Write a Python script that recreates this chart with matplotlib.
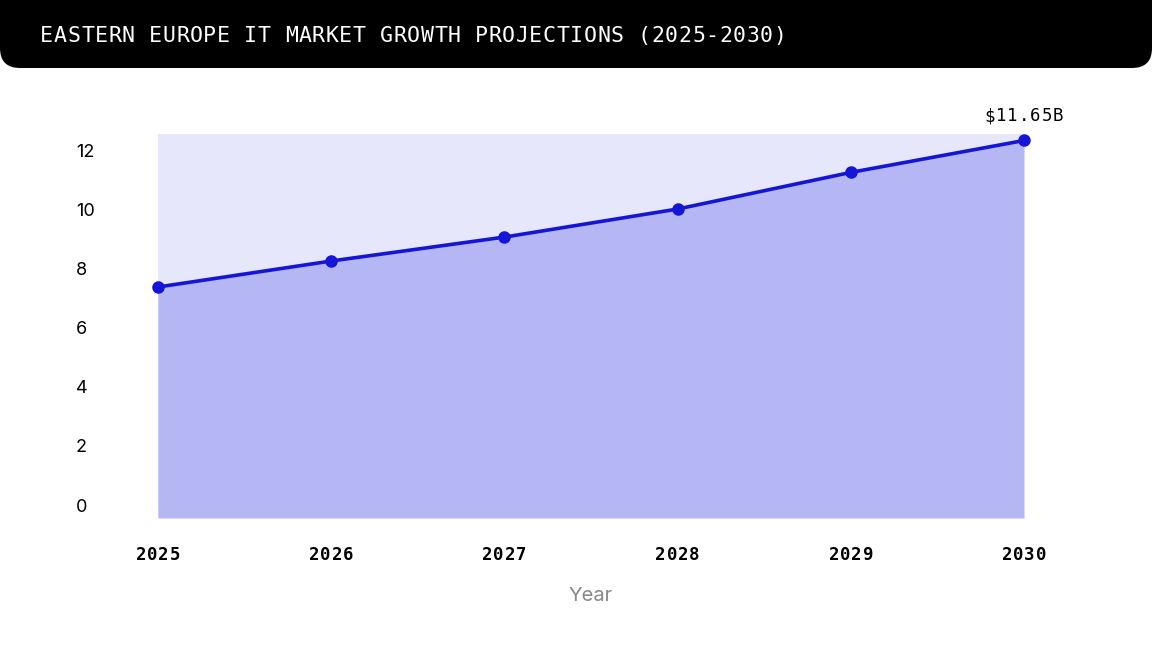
import matplotlib
matplotlib.use("Agg")
import matplotlib.pyplot as plt
import matplotlib.transforms as mtransforms
from matplotlib.patches import FancyBboxPatch

# data
years = [2025, 2026, 2027, 2028, 2029, 2030]
market_size = [7.82, 8.70, 9.51, 10.46, 11.70, 12.78]
y_ticks = [0, 2, 4, 6, 8, 10, 12]
callout_text = "$11.65B"
title = "EASTERN EUROPE IT MARKET GROWTH PROJECTIONS (2025-2030)"

line_color = '#1515d8'
fill_color = '#b5b7f5'
bg_color = '#e6e7fa'

W, H, DPI = 1152, 650, 100
fig = plt.figure(figsize=(W / DPI, H / DPI), dpi=DPI)
fig.patch.set_facecolor('white')


def spaced_text(ax_or_fig, x, y, s, char_w, transform, **kw):
    # monospace text with extra letter spacing, centred on x (offset in pixels)
    total = char_w * len(s)
    for i, ch in enumerate(s):
        dx = -total / 2 + (i + 0.5) * char_w
        tr = mtransforms.offset_copy(transform, fig=fig, x=dx, y=0, units='dots')
        ax_or_fig.text(x, y, ch, transform=tr, ha='center', va='center', **kw)


# title bar
bar = FancyBboxPatch((0, H - 68), W, 120, boxstyle="round,pad=0,rounding_size=20",
                     transform=None, facecolor='black', edgecolor='none')
fig.patches.append(bar)
char_w = 13.58
spaced_text(fig, (40 + char_w * len(title) / 2) / W, (H - 36) / H, title, char_w,
            fig.transFigure, color='white', family='DejaVu Sans Mono', fontsize=15.5)

ax = fig.add_axes([158 / W, (H - 518) / H, (1024 - 158) / W, (518 - 134) / H])
ax.set_facecolor(bg_color)
ax.fill_between(years, market_size, 0, color=fill_color, linewidth=0)
ax.plot(years, market_size, color=line_color, linewidth=2.6, marker='o',
        markersize=8, clip_on=False, zorder=3)
ax.set_xlim(years[0], years[-1])
ax.set_ylim(0, 13)
for s in ax.spines.values():
    s.set_visible(False)
ax.set_xticks([])
ax.set_yticks([])

# x labels, letter-spaced monospace
xtrans = mtransforms.offset_copy(ax.get_xaxis_transform(), fig=fig, x=0, y=-37, units='dots')
for yr in years:
    spaced_text(ax, yr, 0, str(yr), 11.3, xtrans, family='DejaVu Sans Mono',
                fontsize=12.5, fontweight='bold', color='black', clip_on=False)

# y labels sit a little above their value, left-aligned
ytrans = mtransforms.offset_copy(ax.get_yaxis_transform(), fig=fig, x=-82, y=11, units='dots')
for t in y_ticks:
    ax.text(0, t, str(t), transform=ytrans, ha='left', va='center',
            family='Inter', fontsize=13, color='black')

ax.set_xlabel('Year', family='Inter', fontsize=14.5, color='#888888', labelpad=50)

# callout over the last point
ctrans = mtransforms.offset_copy(ax.transData, fig=fig, x=0, y=24, units='dots')
spaced_text(ax, years[-1], market_size[-1], callout_text, 11.4, ctrans,
            family='DejaVu Sans Mono', fontsize=12.5, color='black', clip_on=False)

fig.savefig('out.png', dpi=DPI)
